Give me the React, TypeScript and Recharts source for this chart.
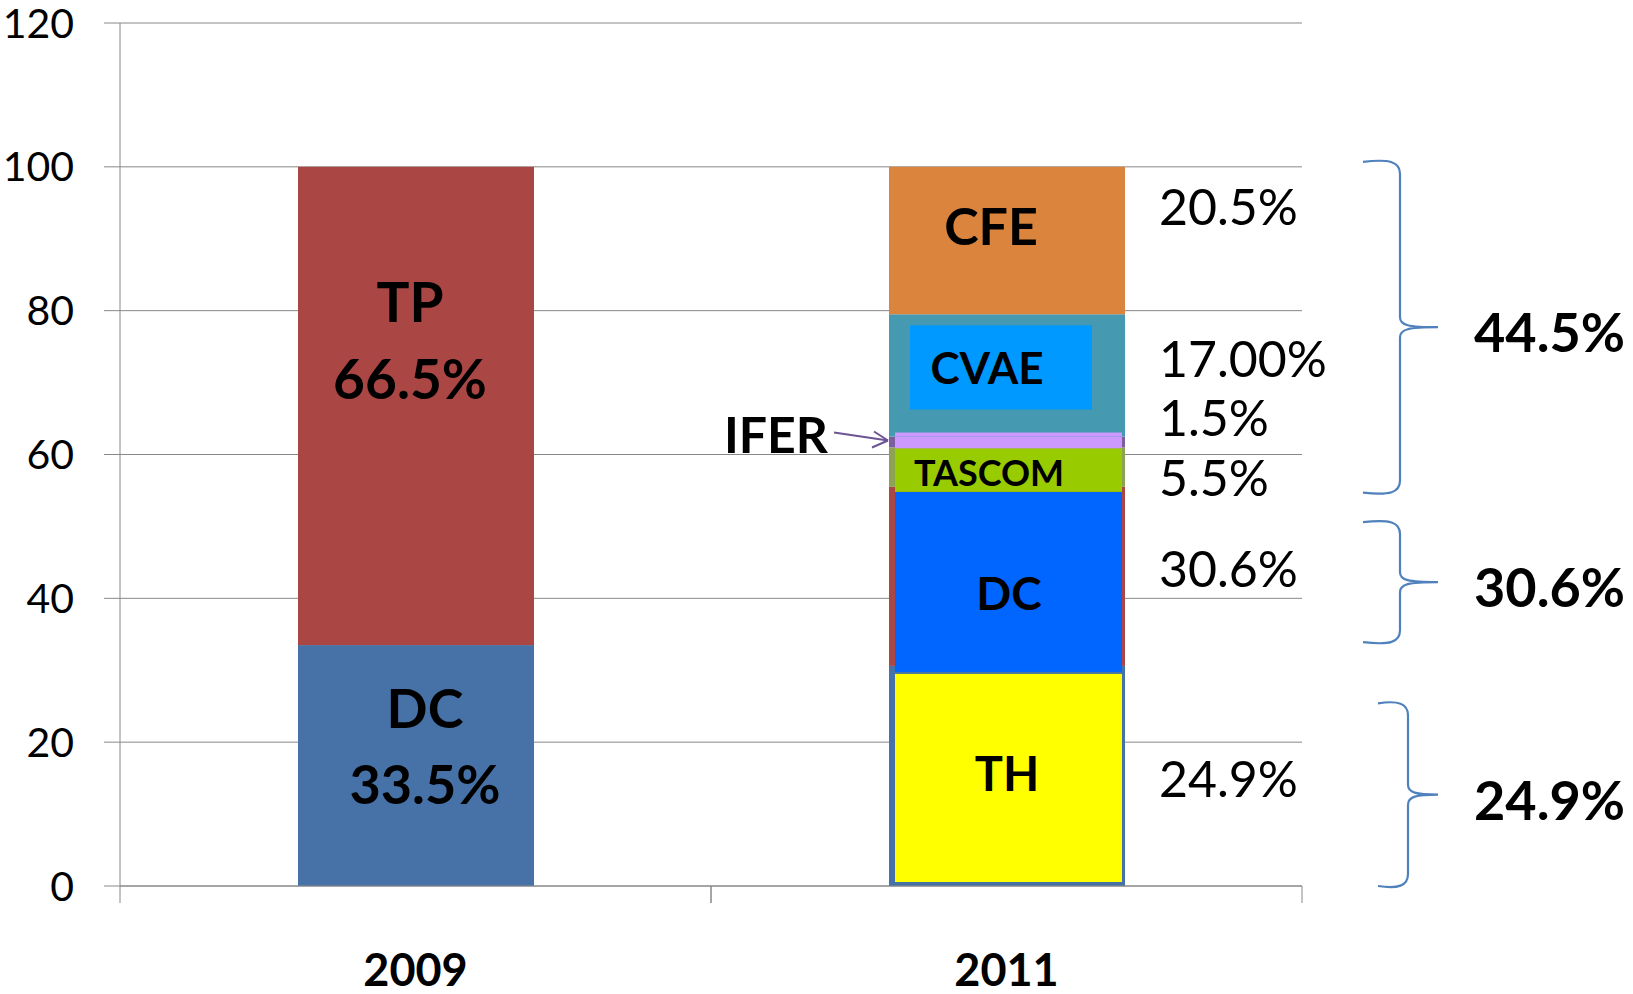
import React from "react";
import {
  BarChart,
  Bar,
  XAxis,
  YAxis,
  CartesianGrid,
  ReferenceArea,
} from "recharts";

// --- data ---
const YEARS = ["2009", "2011"];
const BASE_BLUE = [33.5, 30.6]; // DC in 2009, TH frame in 2011
const BASE_RED = [66.5, 24.9]; // TP in 2009, DC frame in 2011
const TASCOM = [0, 5.5];
const IFER = [0, 1.5];
const CVAE = [0, 17];
const CFE = [0, 20.5];
const Y_TICKS = [0, 20, 40, 60, 80, 100, 120];

// text shown inside each segment, per year
const INNER_TEXT: Record<string, string[][]> = {
  blue: [["DC", "33.5%"], ["TH"]],
  red: [["TP", "66.5%"], ["DC"]],
  tascom: [[], ["TASCOM"]],
  ifer: [[], []],
  cvae: [[], ["CVAE"]],
  cfe: [[], ["CFE"]],
};
// share printed to the right of the 2011 bar
const SHARE_TEXT: Record<string, string> = {
  blue: "24.9%",
  red: "30.6%",
  tascom: "5.5%",
  ifer: "1.5%",
  cvae: "17.00%",
  cfe: "20.5%",
};
const IFER_LABEL = "IFER";

// braces on the right
const BRACE_LOW = [54.7, 33.9, 0];
const BRACE_HIGH = [100.7, 50.6, 25.4];
const BRACE_TEXT = ["44.5%", "30.6%", "24.9%"];

// --- styling ---
const FONT = "Lato, 'Open Sans', sans-serif";
const AXIS = "#888888";
const W = 1633;
const H = 994;
const MARGIN = { top: 23, right: 331, bottom: 0, left: 0 };
const Y_AXIS_W = 120;
const X_AXIS_H = 108;
const PLOT_W = W - MARGIN.right - Y_AXIS_W;
const BAND_HALF = PLOT_W / YEARS.length / 2;

type Box = { fill: string; t: number; r: number; b: number; l: number };
type TextLayout = { size: number; dx: number; dys: number[] } | null;

const SEG: Record<
  string,
  { fill: string; box?: Box; text: TextLayout[]; shareDy: number }
> = {
  blue: {
    fill: "#4672A8",
    box: { fill: "#FFFF00", t: 8, r: 3, b: 4, l: 6 },
    text: [
      { size: 54, dx: 9, dys: [83, 159] },
      { size: 47, dx: 0, dys: [125] },
    ],
    shareDy: 131,
  },
  red: {
    fill: "#AA4744",
    box: { fill: "#0066FF", t: 5, r: 3, b: -6, l: 6 },
    text: [
      { size: 55, dx: -6, dys: [155, 232] },
      { size: 46, dx: 2, dys: [123] },
    ],
    shareDy: 100,
  },
  tascom: {
    fill: "#8CA254",
    box: { fill: "#99CC00", t: 1, r: 3, b: -5, l: 6 },
    text: [null, { size: 36, dx: -18, dys: [39] }],
    shareDy: 49,
  },
  ifer: {
    fill: "#7D5F9F",
    box: { fill: "#CC99FF", t: -4, r: 3, b: -1, l: 6 },
    text: [null, null],
    shareDy: -1,
  },
  cvae: {
    fill: "#4599B0",
    box: { fill: "#0099FF", t: 11, r: 33, b: 27, l: 21 },
    text: [null, { size: 44, dx: -20, dys: [70] }],
    shareDy: 63,
  },
  cfe: {
    fill: "#DB843D",
    text: [null, { size: 52, dx: -16, dys: [78] }],
    shareDy: 58,
  },
};

const SERIES = ["blue", "red", "tascom", "ifer", "cvae", "cfe"];

const BRACE_STYLE = [
  { left: 61, spine: 98 },
  { left: 61, spine: 98 },
  { left: 76, spine: 106 },
];

const data = YEARS.map((year, i) => ({
  year,
  blue: BASE_BLUE[i],
  red: BASE_RED[i],
  tascom: TASCOM[i],
  ifer: IFER[i],
  cvae: CVAE[i],
  cfe: CFE[i],
}));

function makeSegment(key: string) {
  return (props: any) => {
    const { x, y, width, height, index } = props;
    if (!height || height <= 0) return <g />;
    const s = SEG[key];
    const is2011 = index === 1;
    const layout = s.text[index];
    const lines = INNER_TEXT[key][index] || [];
    const cx = x + width / 2;
    // a box of the segment below that pokes up into this one
    const belowKey = SERIES[SERIES.indexOf(key) - 1];
    const below = belowKey ? SEG[belowKey].box : undefined;
    return (
      <g>
        <rect x={x} y={y} width={width} height={height} fill={s.fill} />
        {is2011 && s.box && (
          <rect
            x={x + s.box.l}
            y={y + s.box.t}
            width={width - s.box.l - s.box.r}
            height={height - s.box.t - s.box.b}
            fill={s.box.fill}
          />
        )}
        {is2011 && below && below.t < 0 && (
          <rect
            x={x + below.l}
            y={y + height + below.t}
            width={width - below.l - below.r}
            height={-below.t}
            fill={below.fill}
          />
        )}
        {layout &&
          lines.map((t, k) => (
            <text
              key={k}
              x={cx + layout.dx}
              y={y + layout.dys[k]}
              textAnchor="middle"
              fontFamily={FONT}
              fontWeight={700}
              fontSize={layout.size}
              fill="#000"
            >
              {t}
            </text>
          ))}
        {is2011 && (
          <text
            x={x + width + 34}
            y={y + s.shareDy}
            fontFamily={FONT}
            fontSize={50}
            fill="#000"
          >
            {SHARE_TEXT[key]}
          </text>
        )}
        {is2011 && key === "ifer" && (
          <g>
            <text
              x={x - 61}
              y={y + 16}
              textAnchor="end"
              fontFamily={FONT}
              fontWeight={700}
              fontSize={50}
              fill="#000"
            >
              {IFER_LABEL}
            </text>
            <line x1={x - 55} y1={y - 4} x2={x - 1} y2={y + 4} stroke="#6E5494" strokeWidth={2} />
            <line x1={x - 1} y1={y + 4} x2={x - 15} y2={y - 5} stroke="#6E5494" strokeWidth={2} />
            <line x1={x - 1} y1={y + 4} x2={x - 17} y2={y + 11} stroke="#6E5494" strokeWidth={2} />
          </g>
        )}
      </g>
    );
  };
}

function makeBrace(i: number) {
  return (props: any) => {
    const { x, y, width, height } = props;
    const right = x + width;
    const x0 = right + BRACE_STYLE[i].left;
    const xs = right + BRACE_STYLE[i].spine;
    const xt = right + 136;
    const top = y;
    const bot = y + height;
    const mid = y + height / 2;
    const d =
      `M ${x0} ${top} C ${xs - 10} ${top - 3}, ${xs} ${top}, ${xs} ${top + 12} ` +
      `L ${xs} ${mid - 10} C ${xs} ${mid - 2}, ${xs + 8} ${mid}, ${xt} ${mid} ` +
      `M ${xt} ${mid} C ${xs + 8} ${mid}, ${xs} ${mid + 2}, ${xs} ${mid + 10} ` +
      `L ${xs} ${bot - 12} C ${xs} ${bot}, ${xs - 10} ${bot + 3}, ${x0} ${bot}`;
    return (
      <g>
        <path d={d} fill="none" stroke="#4F81BD" strokeWidth={2.2} />
        <text
          x={right + 172}
          y={mid + 25}
          fontFamily={FONT}
          fontWeight={700}
          fontSize={54}
          fill="#000"
        >
          {BRACE_TEXT[i]}
        </text>
      </g>
    );
  };
}

const YearTick = (props: any) => {
  const { x, y, payload } = props;
  return (
    <g>
      <line x1={x - BAND_HALF} x2={x - BAND_HALF} y1={y} y2={y + 17} stroke={AXIS} />
      <line x1={x + BAND_HALF} x2={x + BAND_HALF} y1={y} y2={y + 17} stroke={AXIS} />
      <text
        x={x}
        y={y + 100}
        textAnchor="middle"
        fontFamily={FONT}
        fontWeight={700}
        fontSize={45}
        fill="#000"
      >
        {payload.value}
      </text>
    </g>
  );
};

export default function App() {
  return (
    <div style={{ position: "absolute", left: 0, top: 0, background: "#fff" }}>
      <BarChart width={W} height={H} data={data} margin={MARGIN} barSize={236}>
        <CartesianGrid vertical={false} stroke={AXIS} />
        <XAxis
          dataKey="year"
          height={X_AXIS_H}
          tickLine={false}
          tickSize={0}
          tickMargin={0}
          axisLine={{ stroke: AXIS }}
          tick={<YearTick />}
          interval={0}
        />
        <YAxis
          width={Y_AXIS_W}
          domain={[0, 120]}
          ticks={Y_TICKS}
          interval={0}
          tickSize={16}
          tickMargin={30}
          axisLine={{ stroke: AXIS }}
          tickLine={{ stroke: AXIS }}
          tick={{ fontSize: 41, fill: "#000", fontFamily: FONT }}
        />
        {SERIES.map((key) => (
          <Bar
            key={key}
            dataKey={key}
            stackId="a"
            fill={SEG[key].fill}
            isAnimationActive={false}
            shape={makeSegment(key)}
          />
        ))}
        {BRACE_TEXT.map((_, i) => (
          <ReferenceArea
            key={i}
            y1={BRACE_LOW[i]}
            y2={BRACE_HIGH[i]}
            ifOverflow="visible"
            shape={makeBrace(i)}
          />
        ))}
      </BarChart>
    </div>
  );
}
